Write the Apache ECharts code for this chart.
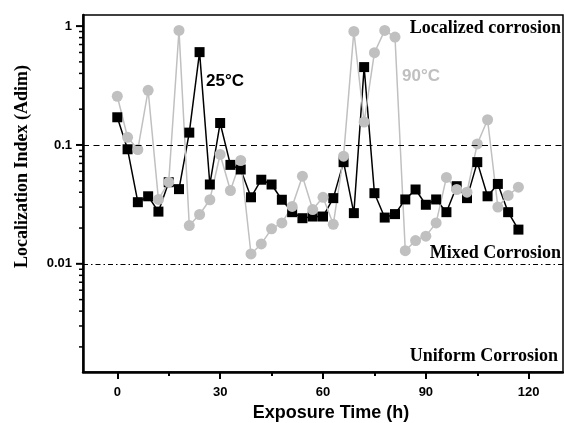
<!DOCTYPE html>
<html>
<head>
<meta charset="utf-8">
<title>Localization Index</title>
<script src="https://cdn.jsdelivr.net/npm/echarts@6/dist/echarts.min.js"></script>
<style>
  html, body { margin: 0; padding: 0; background: #fff; }
  #chart { width: 564px; height: 423px; }
</style>
</head>
<body>
<div id="chart"></div>
<script>
// Exposure time (h)
const hours = [
  0, 3, 6, 9, 12, 15, 18, 21, 24, 27, 30, 33, 36, 39, 42, 45, 48, 51, 54, 57,
  60, 63, 66, 69, 72, 75, 78, 81, 84, 87, 90, 93, 96, 99, 102, 105, 108, 111, 114, 117,
];

// Localization index at 25 °C
const li25 = [
  0.171, 0.092, 0.033, 0.037, 0.0275, 0.0486, 0.0425, 0.127, 0.604, 0.0465,
  0.153, 0.068, 0.0622, 0.0363, 0.051, 0.0465, 0.0346, 0.0272, 0.0242, 0.025,
  0.025, 0.0357, 0.0717, 0.0267, 0.452, 0.0393, 0.0245, 0.0262, 0.0348, 0.0422,
  0.0314, 0.0348, 0.0272, 0.045, 0.0357, 0.0717, 0.037, 0.047, 0.0272, 0.0194,
];

// Localization index at 90 °C
const li90 = [
  0.257, 0.116, 0.0916, 0.288, 0.0348, 0.0486, 0.92, 0.021, 0.026, 0.0346,
  0.0832, 0.0414, 0.074, 0.0121, 0.0147, 0.0197, 0.0221, 0.0304, 0.0546, 0.0286,
  0.0363, 0.0215, 0.0805, 0.902, 0.156, 0.597, 0.92, 0.808, 0.0129, 0.0157,
  0.0171, 0.0221, 0.0533, 0.0422, 0.0401, 0.102, 0.163, 0.030, 0.0376, 0.0441,
];

// axis ticks
const xMajorTicks = [0, 30, 60, 90, 120];
const xMinorTicks = [15, 45, 75, 105];
const yMajorTicks = [0.01, 0.1, 1];
const yMinorTicks = [
  0.002, 0.003, 0.004, 0.005, 0.006, 0.007, 0.008, 0.009,
  0.02, 0.03, 0.04, 0.05, 0.06, 0.07, 0.08, 0.09,
  0.2, 0.3, 0.4, 0.5, 0.6, 0.7, 0.8, 0.9,
];

// regime thresholds
const localizedLimit = 0.1;
const mixedLimit = 0.01;

const GRAY = '#c0c0c0';
const SANS = "Arial, 'Liberation Sans', sans-serif";
const SERIF = "'Times New Roman', 'Liberation Serif', serif";
const X_MIN = -10;
const X_MAX = 130;
const Y_MIN = 0.00123;
const Y_MAX = 1.24;
const MAJOR_LEN = 7;
const MINOR_LEN = 4;

const chart = echarts.init(document.getElementById('chart'), null, { renderer: 'canvas' });

function toPairs(ys) {
  return hours.map((h, i) => [h, ys[i]]);
}

function formatLog(v) {
  return String(+Number(v).toPrecision(6));
}

// log-axis ticks (2..9 spacing), drawn through the y scale at the left edge
const yTickData = yMajorTicks.map((v) => [X_MIN, v, MAJOR_LEN])
  .concat(yMinorTicks.map((v) => [X_MIN, v, MINOR_LEN]));

function renderYTick(params, api) {
  const p = api.coord([api.value(0), api.value(1)]);
  const len = api.value(2);
  return {
    type: 'line',
    shape: { x1: p[0] - len, y1: p[1], x2: p[0], y2: p[1] },
    style: { stroke: '#000', lineWidth: len === MAJOR_LEN ? 2 : 1.5 },
  };
}

const option = {
  animation: false,
  backgroundColor: '#fff',
  grid: {
    left: 83,
    right: 1,
    top: 15,
    bottom: 51,
    outerBoundsMode: 'none',
    show: true,
    borderColor: '#000',
    borderWidth: 1.5,
  },
  xAxis: [
    {
      type: 'value',
      min: X_MIN,
      max: X_MAX,
      position: 'bottom',
      name: 'Exposure Time (h)',
      nameLocation: 'middle',
      nameGap: 30,
      nameTextStyle: {
        fontFamily: SANS,
        fontWeight: 'bold',
        fontSize: 18,
        color: '#000',
        padding: [0, 0, 0, 16],
      },
      axisLine: { show: true, onZero: false, lineStyle: { color: '#000', width: 2.5 } },
      axisTick: {
        show: true,
        customValues: xMajorTicks,
        length: MAJOR_LEN,
        lineStyle: { color: '#000', width: 2 },
      },
      axisLabel: {
        customValues: xMajorTicks,
        margin: 14,
        fontFamily: SANS,
        fontWeight: 'bold',
        fontSize: 13,
        color: '#000',
      },
      splitLine: { show: false },
    },
    {
      type: 'value',
      min: X_MIN,
      max: X_MAX,
      position: 'bottom',
      axisLine: { show: false, onZero: false },
      axisTick: {
        show: true,
        customValues: xMinorTicks,
        length: MINOR_LEN,
        lineStyle: { color: '#000', width: 2 },
      },
      axisLabel: { show: false },
      splitLine: { show: false },
    },
  ],
  yAxis: {
    type: 'log',
    logBase: 10,
    min: Y_MIN,
    max: Y_MAX,
    position: 'left',
    name: 'Localization Index (Adim)',
    nameLocation: 'middle',
    nameGap: 52,
    nameTextStyle: {
      fontFamily: SERIF,
      fontWeight: 'bold',
      fontSize: 18,
      color: '#000',
      padding: [0, 0, 0, 54],
    },
    axisLine: { show: true, onZero: false, lineStyle: { color: '#000', width: 2.5 } },
    axisTick: { show: false },
    axisLabel: {
      customValues: yMajorTicks,
      margin: 11,
      formatter: formatLog,
      fontFamily: SANS,
      fontWeight: 'bold',
      fontSize: 13,
      color: '#000',
    },
    splitLine: { show: false },
  },
  series: [
    {
      name: '25°C',
      type: 'line',
      data: toPairs(li25),
      symbol: 'rect',
      symbolSize: 10,
      itemStyle: { color: '#000' },
      lineStyle: { color: '#000', width: 1.5 },
      markLine: {
        silent: true,
        symbol: ['none', 'none'],
        label: { show: false },
        data: [
          { yAxis: localizedLimit, lineStyle: { color: '#000', width: 1.2, type: [6, 4.5] } },
          { yAxis: mixedLimit, lineStyle: { color: '#000', width: 1.2, type: [5, 3, 1.5, 3] } },
        ],
      },
    },
    {
      name: '90°C',
      type: 'line',
      data: toPairs(li90),
      symbol: 'circle',
      symbolSize: 11,
      itemStyle: { color: GRAY },
      lineStyle: { color: GRAY, width: 1.5 },
    },
    {
      name: 'yTicks',
      type: 'custom',
      silent: true,
      clip: false,
      data: yTickData,
      renderItem: renderYTick,
    },
  ],
  graphic: [
    {
      type: 'text', right: 3, top: 19,
      style: { text: 'Localized corrosion', font: `bold 18px ${SERIF}`, fill: '#000' },
    },
    {
      type: 'text', right: 3, top: 244,
      style: { text: 'Mixed Corrosion', font: `bold 18px ${SERIF}`, fill: '#000' },
    },
    {
      type: 'text', right: 6, top: 347,
      style: { text: 'Uniform Corrosion', font: `bold 18px ${SERIF}`, fill: '#000' },
    },
    {
      type: 'text', left: 206, top: 73,
      style: { text: '25°C', font: `bold 17px ${SANS}`, fill: '#000' },
    },
    {
      type: 'text', left: 402, top: 68,
      style: { text: '90°C', font: `bold 17px ${SANS}`, fill: GRAY },
    },
  ],
};

chart.setOption(option);
</script>
</body>
</html>
